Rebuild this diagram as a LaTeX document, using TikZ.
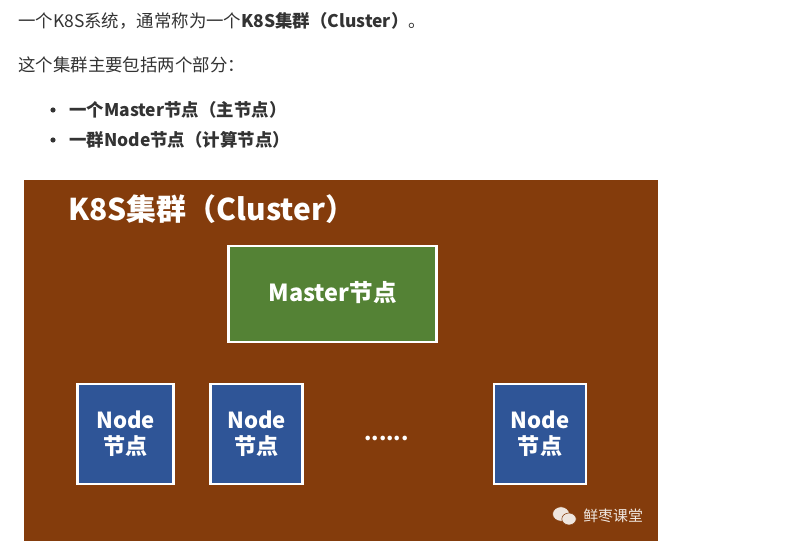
\documentclass[tikz,border=0pt]{standalone}
\usepackage{fontspec}
\usetikzlibrary{shapes.geometric}
\setmainfont{Noto Sans CJK SC}
\definecolor{clusterbrown}{HTML}{843C0C}
\definecolor{mastergreen}{HTML}{548235}
\definecolor{nodeblue}{HTML}{2F5597}
\definecolor{bodytext}{HTML}{333333}
\definecolor{markgrey}{HTML}{EFE6DF}
\begin{document}
\begin{tikzpicture}[
    x=0.025cm, y=-0.025cm,
    bodyline/.style={
        anchor=west,
        inner sep=0pt,
        text=bodytext,
        font=\fontsize{12.4pt}{14pt}\selectfont
    },
    listdot/.style={
        circle,
        fill=bodytext,
        inner sep=0pt,
        minimum size=0.13cm
    },
    whitebox/.style={
        draw=white,
        line width=1.5pt,
        align=center,
        text=white,
        inner sep=0pt,
        font=\bfseries\fontsize{15.7pt}{18.5pt}\selectfont
    },
    workerbox/.style={
        whitebox,
        fill=nodeblue,
        minimum height=2.5cm
    },
    chatbubble/.style={
        fill=markgrey,
        ellipse,
        draw=clusterbrown,
        line width=0.4pt,
        inner sep=0pt
    }
]
    \useasboundingbox (0,0) rectangle (798,553);

    % Text above the picture
    \node[bodyline] (intro) at (18,21) {一个K8S系统，通常称为一个\textbf{K8S集群（Cluster）}。};
    \node[bodyline] (parts) at (18,64.5) {这个集群主要包括两个部分：};
    \node[listdot] (dotmaster) at (53,110) {};
    \node[bodyline] (itemmaster) at (69,110) {\textbf{一个Master节点（主节点）}};
    \node[listdot] (dotnode) at (53,140) {};
    \node[bodyline] (itemnode) at (69,140) {\textbf{一群Node节点（计算节点）}};

    % Cluster
    \node[fill=clusterbrown, minimum width=15.85cm, minimum height=9.03cm, inner sep=0pt] (cluster) at (341,360.5) {};
    \node[anchor=west, inner sep=0pt, text=white, font=\bfseries\fontsize{21.3pt}{27pt}\selectfont] (title) at (68,209) {K8S集群（Cluster）};

    \node[
        whitebox,
        fill=mastergreen,
        minimum width=5.2cm,
        minimum height=2.38cm,
        font=\bfseries\fontsize{16.7pt}{20pt}\selectfont
    ] (master) at (332.5,294) {\raisebox{3.5pt}{Master节点}};

    \node[workerbox, minimum width=2.4cm] (nodea) at (125.5,434) {Node\\节点};
    \node[workerbox, minimum width=2.3cm] (nodeb) at (256.5,434) {Node\\节点};
    \node[workerbox, minimum width=2.32cm] (nodec) at (540,434) {Node\\节点};
    \node[inner sep=0pt, text=white, font=\bfseries\fontsize{15pt}{18pt}\selectfont] (dots) at (386.5,438) {......};

    % Watermark
    \node[chatbubble, minimum width=0.42cm, minimum height=0.36cm] (bubblea) at (561,514) {};
    \node[chatbubble, minimum width=0.36cm, minimum height=0.3cm] (bubbleb) at (569,519) {};
    \node[anchor=west, inner sep=0pt, text=markgrey, font=\fontsize{10.6pt}{12pt}\selectfont] (mark) at (583,516) {鲜枣课堂};
\end{tikzpicture}
\end{document}
